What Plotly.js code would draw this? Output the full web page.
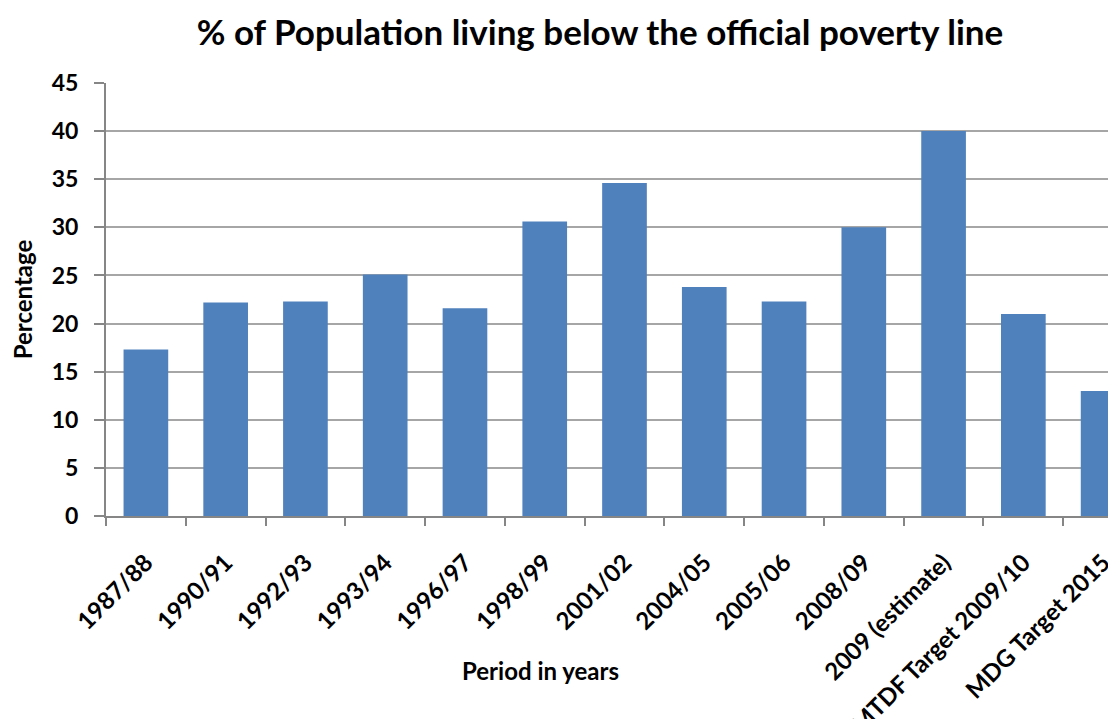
<!DOCTYPE html>
<html>
<head>
<meta charset="utf-8">
<script src="https://cdn.plot.ly/plotly-3.0.1.min.js"></script>
<style>
html,body{margin:0;padding:0;overflow:hidden;background:#fff;width:1108px;height:719px;}
#chart{width:1160px;height:719px;}
</style>
</head>
<body>
<div id="chart"></div>
<script>
const categories = ["1987/88","1990/91","1992/93","1993/94","1996/97","1998/99","2001/02","2004/05","2005/06","2008/09","2009 (estimate)","MTDF Target 2009/10","MDG Target 2015"];
const percentages = [17.3, 22.2, 22.3, 25.1, 21.6, 30.6, 34.6, 23.8, 22.3, 30.0, 40.0, 21.0, 13.0];
const yTicks = [0,5,10,15,20,25,30,35,40,45];

const FONT = "Lato, 'Open Sans', 'DejaVu Sans', sans-serif";
const W = 1160, H = 719;

const data = [{
  type: 'bar',
  x: categories,
  y: percentages,
  marker: {color: '#4F81BD'},
  hoverinfo: 'x+y'
}];

const layout = {
  width: W,
  height: H,
  margin: {l: 105.5, r: 17, t: 83, b: 203},
  paper_bgcolor: '#fff',
  plot_bgcolor: '#fff',
  bargap: 0.44,
  showlegend: false,
  title: {
    text: '% of Population living below the official poverty line',
    font: {family: FONT, size: 35, color: '#000', weight: 'bold'},
    x: 600/W, xref: 'container', xanchor: 'center',
    y: 1 - 33/H, yref: 'container', yanchor: 'middle'
  },
  xaxis: {
    type: 'category',
    tickson: 'boundaries',
    ticks: 'outside',
    ticklen: 8,
    tickwidth: 2,
    tickcolor: '#868686',
    showline: true,
    linecolor: '#868686',
    linewidth: 2,
    showgrid: false,
    tickangle: -45,
    ticklabelstandoff: 21,
    tickfont: {family: FONT, size: 24, color: '#000', weight: 'bold'},
    automargin: false
  },
  yaxis: {
    range: [0, 45],
    tickvals: yTicks,
    ticks: 'outside',
    ticklen: 10,
    tickwidth: 2,
    tickcolor: '#868686',
    showline: true,
    linecolor: '#868686',
    linewidth: 2,
    showgrid: true,
    gridcolor: '#a6a6a6',
    gridwidth: 2,
    zeroline: false,
    ticklabelstandoff: 11,
    tickfont: {family: FONT, size: 23, color: '#000', weight: 'bold'},
    title: {text: 'Percentage', font: {family: FONT, size: 24, color: '#000', weight: 'bold'}, standoff: 12},
    automargin: false
  },
  annotations: [{
    text: 'Period in years',
    xref: 'paper', yref: 'paper',
    x: (540 - 105.5) / (W - 105.5 - 17), y: -(670 - 516) / (719 - 83 - 203),
    xanchor: 'center', yanchor: 'middle',
    showarrow: false,
    font: {family: FONT, size: 24, color: '#000', weight: 'bold'}
  }]
};

Plotly.newPlot('chart', data, layout, {displayModeBar: false, staticPlot: true});
</script>
</body>
</html>
